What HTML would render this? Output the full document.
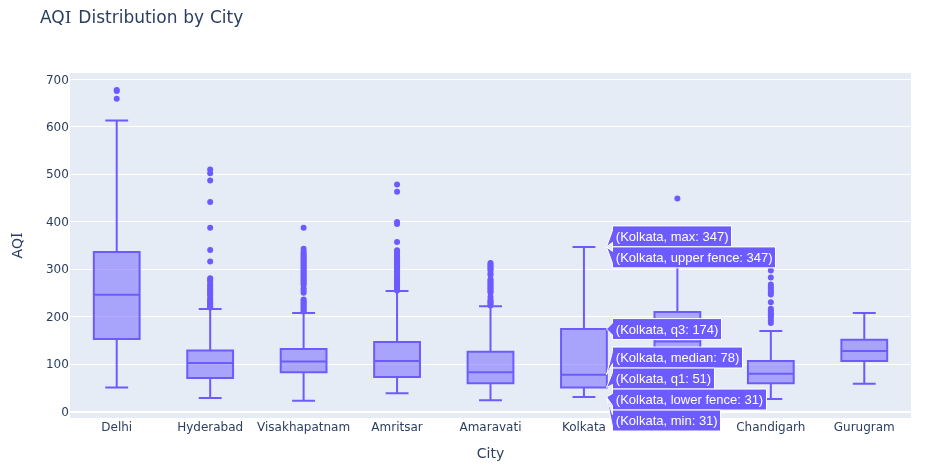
<!DOCTYPE html><html><head><meta charset="utf-8"><title>AQI Distribution by City</title><style>html,body{margin:0;padding:0;background:#fff;overflow:hidden}</style></head><body><svg width="928" height="472" viewBox="0 0 928 472" style="display:block">
<rect width="928" height="472" fill="#fff"/>
<rect x="70" y="73" width="841" height="345" fill="#e5ecf6"/>
<rect x="70" y="79" width="841" height="1" fill="#fff"/>
<rect x="70" y="126" width="841" height="1" fill="#fff"/>
<rect x="70" y="174" width="841" height="1" fill="#fff"/>
<rect x="70" y="221" width="841" height="1" fill="#fff"/>
<rect x="70" y="269" width="841" height="1" fill="#fff"/>
<rect x="70" y="316" width="841" height="1" fill="#fff"/>
<rect x="70" y="364" width="841" height="1" fill="#fff"/>
<rect x="70" y="411" width="841" height="2" fill="#fff"/>
<g font-family="'DejaVu Sans','Liberation Sans',sans-serif" fill="#2a3f5f">
<text x="68.9" y="416" text-anchor="end" font-size="12">0</text>
<text x="68.9" y="368" text-anchor="end" font-size="12">100</text>
<text x="68.9" y="321" text-anchor="end" font-size="12">200</text>
<text x="68.9" y="273" text-anchor="end" font-size="12">300</text>
<text x="68.9" y="226" text-anchor="end" font-size="12">400</text>
<text x="68.9" y="178" text-anchor="end" font-size="12">500</text>
<text x="68.9" y="131" text-anchor="end" font-size="12">600</text>
<text x="68.9" y="84" text-anchor="end" font-size="12">700</text>
<text x="116.72" y="431" text-anchor="middle" font-size="12">Delhi</text>
<text x="210.17" y="431" text-anchor="middle" font-size="12">Hyderabad</text>
<text x="303.61" y="431" text-anchor="middle" font-size="12">Visakhapatnam</text>
<text x="397.06" y="431" text-anchor="middle" font-size="12">Amritsar</text>
<text x="490.50" y="431" text-anchor="middle" font-size="12">Amaravati</text>
<text x="583.94" y="431" text-anchor="middle" font-size="12">Kolkata</text>
<text x="677.39" y="431" text-anchor="middle" font-size="12">Patna</text>
<text x="770.83" y="431" text-anchor="middle" font-size="12">Chandigarh</text>
<text x="864.28" y="431" text-anchor="middle" font-size="12">Gurugram</text>
<text x="40" y="23" font-size="17" style="word-spacing:0.4px">AQ<tspan font-family="'DejaVu Serif',serif">I</tspan><tspan dx="1.1"> Distribution by City</tspan></text>
<text x="490.5" y="458" text-anchor="middle" font-size="14">City</text>
<text transform="translate(22,245.5) rotate(-90)" text-anchor="middle" font-size="14">AQ<tspan font-family="'DejaVu Serif',serif">I</tspan></text>
</g>
<g stroke="#6c5cff" stroke-width="2" fill="#6c5cff" fill-opacity="0.5">
<path d="M93.83,294.85H139.62M93.83,339.02H139.62V252.10H93.83ZM116.72,339.02V387.47M116.72,252.10V120.52M105.28,387.47H128.17M105.28,120.52H128.17"/>
<path d="M187.27,363.01H233.06M187.27,377.97H233.06V350.43H187.27ZM210.17,377.97V397.93M210.17,350.43V309.10M198.72,397.93H221.61M198.72,309.10H221.61"/>
<path d="M280.72,361.59H326.50M280.72,372.27H326.50V349.00H280.72ZM303.61,372.27V400.77M303.61,349.00V312.90M292.16,400.77H315.06M292.16,312.90H315.06"/>
<path d="M374.16,360.88H419.95M374.16,377.02H419.95V341.88H374.16ZM397.06,377.02V393.18M397.06,341.88V291.05M385.61,393.18H408.50M385.61,291.05H408.50"/>
<path d="M467.61,372.27H513.39M467.61,383.20H513.39V351.85H467.61ZM490.50,383.20V400.30M490.50,351.85V306.25M479.05,400.30H501.95M479.05,306.25H501.95"/>
<path d="M561.05,374.65H606.84M561.05,387.47H606.84V329.05H561.05ZM583.94,387.47V396.97M583.94,329.05V246.88M572.50,396.97H595.39M572.50,246.88H595.39"/>
<path d="M654.50,341.40H700.28M654.50,372.00H700.28V311.95H654.50ZM677.39,372.00V400.00M677.39,311.95V250.00M665.94,400.00H688.84M665.94,250.00H688.84"/>
<path d="M747.94,373.70H793.73M747.94,383.20H793.73V360.88H747.94ZM770.83,383.20V399.10M770.83,360.88V330.95M759.39,399.10H782.28M759.39,330.95H782.28"/>
<path d="M841.38,350.90H887.17M841.38,361.11H887.17V339.74H841.38ZM864.28,361.11V383.68M864.28,339.74V312.90M852.83,383.68H875.72M852.83,312.90H875.72"/>
</g>
<g fill="#6c5cff">
<circle cx="116.72" cy="89.9" r="3"/>
<circle cx="116.72" cy="91.1" r="3"/>
<circle cx="116.72" cy="98.8" r="3"/>
<circle cx="210.17" cy="169.4" r="3"/>
<circle cx="210.17" cy="173.3" r="3"/>
<circle cx="210.17" cy="180.55" r="3"/>
<circle cx="210.17" cy="201.9" r="3"/>
<circle cx="210.17" cy="227.8" r="3"/>
<circle cx="210.17" cy="250.0" r="3"/>
<circle cx="210.17" cy="261.4" r="3"/>
<circle cx="210.17" cy="278.2" r="3"/>
<circle cx="210.17" cy="279.8" r="3"/>
<circle cx="210.17" cy="281.4" r="3"/>
<circle cx="210.17" cy="284.3" r="3"/>
<circle cx="210.17" cy="286.2" r="3"/>
<circle cx="210.17" cy="288.4" r="3"/>
<circle cx="210.17" cy="290.3" r="3"/>
<circle cx="210.17" cy="292.2" r="3"/>
<circle cx="210.17" cy="293.8" r="3"/>
<circle cx="210.17" cy="295.4" r="3"/>
<circle cx="210.17" cy="298.2" r="3"/>
<circle cx="210.17" cy="300.3" r="3"/>
<circle cx="210.17" cy="302" r="3"/>
<circle cx="210.17" cy="303.4" r="3"/>
<circle cx="210.17" cy="304.8" r="3"/>
<circle cx="210.17" cy="306.2" r="3"/>
<circle cx="210.17" cy="307.6" r="3"/>
<circle cx="303.61" cy="227.8" r="3"/>
<circle cx="303.61" cy="248.8" r="3"/>
<circle cx="303.61" cy="251.6" r="3"/>
<circle cx="303.61" cy="253.6" r="3"/>
<circle cx="303.61" cy="255.1" r="3"/>
<circle cx="303.61" cy="256.6" r="3"/>
<circle cx="303.61" cy="258.1" r="3"/>
<circle cx="303.61" cy="259.6" r="3"/>
<circle cx="303.61" cy="261.1" r="3"/>
<circle cx="303.61" cy="262.6" r="3"/>
<circle cx="303.61" cy="264.1" r="3"/>
<circle cx="303.61" cy="265.6" r="3"/>
<circle cx="303.61" cy="267.1" r="3"/>
<circle cx="303.61" cy="268.6" r="3"/>
<circle cx="303.61" cy="270.1" r="3"/>
<circle cx="303.61" cy="271.6" r="3"/>
<circle cx="303.61" cy="273.1" r="3"/>
<circle cx="303.61" cy="274.6" r="3"/>
<circle cx="303.61" cy="276.1" r="3"/>
<circle cx="303.61" cy="277.6" r="3"/>
<circle cx="303.61" cy="279.1" r="3"/>
<circle cx="303.61" cy="280.6" r="3"/>
<circle cx="303.61" cy="282.1" r="3"/>
<circle cx="303.61" cy="283.6" r="3"/>
<circle cx="303.61" cy="285.1" r="3"/>
<circle cx="303.61" cy="288.3" r="3"/>
<circle cx="303.61" cy="290.6" r="3"/>
<circle cx="303.61" cy="292.8" r="3"/>
<circle cx="303.61" cy="299.6" r="3"/>
<circle cx="303.61" cy="301.1" r="3"/>
<circle cx="303.61" cy="302.6" r="3"/>
<circle cx="303.61" cy="304.1" r="3"/>
<circle cx="303.61" cy="305.6" r="3"/>
<circle cx="303.61" cy="307.1" r="3"/>
<circle cx="303.61" cy="308.6" r="3"/>
<circle cx="303.61" cy="310.1" r="3"/>
<circle cx="303.61" cy="311.6" r="3"/>
<circle cx="397.06" cy="184.6" r="3"/>
<circle cx="397.06" cy="191.8" r="3"/>
<circle cx="397.06" cy="221.9" r="3"/>
<circle cx="397.06" cy="224.0" r="3"/>
<circle cx="397.06" cy="242.0" r="3"/>
<circle cx="397.06" cy="250.3" r="3"/>
<circle cx="397.06" cy="251.8" r="3"/>
<circle cx="397.06" cy="253.3" r="3"/>
<circle cx="397.06" cy="254.8" r="3"/>
<circle cx="397.06" cy="256.3" r="3"/>
<circle cx="397.06" cy="257.8" r="3"/>
<circle cx="397.06" cy="259.3" r="3"/>
<circle cx="397.06" cy="260.8" r="3"/>
<circle cx="397.06" cy="262.3" r="3"/>
<circle cx="397.06" cy="263.8" r="3"/>
<circle cx="397.06" cy="265.3" r="3"/>
<circle cx="397.06" cy="266.8" r="3"/>
<circle cx="397.06" cy="268.3" r="3"/>
<circle cx="397.06" cy="269.8" r="3"/>
<circle cx="397.06" cy="271.3" r="3"/>
<circle cx="397.06" cy="272.8" r="3"/>
<circle cx="397.06" cy="275.2" r="3"/>
<circle cx="397.06" cy="277" r="3"/>
<circle cx="397.06" cy="278.5" r="3"/>
<circle cx="397.06" cy="280.0" r="3"/>
<circle cx="397.06" cy="281.5" r="3"/>
<circle cx="397.06" cy="283.0" r="3"/>
<circle cx="397.06" cy="284.5" r="3"/>
<circle cx="397.06" cy="286.0" r="3"/>
<circle cx="397.06" cy="287.5" r="3"/>
<circle cx="397.06" cy="289.0" r="3"/>
<circle cx="397.06" cy="290.5" r="3"/>
<circle cx="490.50" cy="263.1" r="3"/>
<circle cx="490.50" cy="264.6" r="3"/>
<circle cx="490.50" cy="266.1" r="3"/>
<circle cx="490.50" cy="267.6" r="3"/>
<circle cx="490.50" cy="269.1" r="3"/>
<circle cx="490.50" cy="270.4" r="3"/>
<circle cx="490.50" cy="273.6" r="3"/>
<circle cx="490.50" cy="275.0" r="3"/>
<circle cx="490.50" cy="279.2" r="3"/>
<circle cx="490.50" cy="280.7" r="3"/>
<circle cx="490.50" cy="282.2" r="3"/>
<circle cx="490.50" cy="283.7" r="3"/>
<circle cx="490.50" cy="285.2" r="3"/>
<circle cx="490.50" cy="286.7" r="3"/>
<circle cx="490.50" cy="288.2" r="3"/>
<circle cx="490.50" cy="289.7" r="3"/>
<circle cx="490.50" cy="291.2" r="3"/>
<circle cx="490.50" cy="292.7" r="3"/>
<circle cx="490.50" cy="296.9" r="3"/>
<circle cx="490.50" cy="299.9" r="3"/>
<circle cx="490.50" cy="301.3" r="3"/>
<circle cx="490.50" cy="302.7" r="3"/>
<circle cx="490.50" cy="304.1" r="3"/>
<circle cx="490.50" cy="305.5" r="3"/>
<circle cx="677.39" cy="198.6" r="3"/>
<circle cx="770.83" cy="270.5" r="3"/>
<circle cx="770.83" cy="277.6" r="3"/>
<circle cx="770.83" cy="284.5" r="3"/>
<circle cx="770.83" cy="286.8" r="3"/>
<circle cx="770.83" cy="288.6" r="3"/>
<circle cx="770.83" cy="290.7" r="3"/>
<circle cx="770.83" cy="292.3" r="3"/>
<circle cx="770.83" cy="294.6" r="3"/>
<circle cx="770.83" cy="302.2" r="3"/>
<circle cx="770.83" cy="308.7" r="3"/>
<circle cx="770.83" cy="310.4" r="3"/>
<circle cx="770.83" cy="312.8" r="3"/>
<circle cx="770.83" cy="314.6" r="3"/>
<circle cx="770.83" cy="316.0" r="3"/>
<circle cx="770.83" cy="317.4" r="3"/>
<circle cx="770.83" cy="320.6" r="3"/>
<circle cx="770.83" cy="323.1" r="3"/>
</g>
<g font-family="'Liberation Sans',Arial,sans-serif" font-size="13">
<g transform="translate(606.5,246.875)"><path d="M0,0L6,-4.50v4.47h119.00v-20.95H6V-16.50Z" fill="#6c5cff" stroke="#fff" stroke-width="1"/><text x="9.3" y="-6.00" fill="#fff">(Kolkata, max: 347)</text></g>
<g transform="translate(606.5,246.875)"><path d="M0,0L6,16.50v4.47h163.00v-20.95H6V4.50Z" fill="#6c5cff" stroke="#fff" stroke-width="1"/><text x="9.3" y="15.00" fill="#fff">(Kolkata, upper fence: 347)</text></g>
<g transform="translate(606.5,329.05)"><path d="M0,0L6,6.00v4.47h109.00v-20.95H6V-6.00Z" fill="#6c5cff" stroke="#fff" stroke-width="1"/><text x="9.3" y="4.50" fill="#fff">(Kolkata, q3: 174)</text></g>
<g transform="translate(606.5,374.65)"><path d="M0,0L6,-11.11v4.47h130.00v-20.95H6V-23.11Z" fill="#6c5cff" stroke="#fff" stroke-width="1"/><text x="9.3" y="-12.61" fill="#fff">(Kolkata, median: 78)</text></g>
<g transform="translate(606.5,387.47499999999997)"><path d="M0,0L6,-2.93v4.47h102.00v-20.95H6V-14.93Z" fill="#6c5cff" stroke="#fff" stroke-width="1"/><text x="9.3" y="-4.43" fill="#fff">(Kolkata, q1: 51)</text></g>
<g transform="translate(606.5,396.97499999999997)"><path d="M0,0L6,8.57v4.47h154.00v-20.95H6V-3.43Z" fill="#6c5cff" stroke="#fff" stroke-width="1"/><text x="9.3" y="7.07" fill="#fff">(Kolkata, lower fence: 31)</text></g>
<g transform="translate(606.5,396.97499999999997)"><path d="M0,0L6,29.57v4.47h108.00v-20.95H6V17.57Z" fill="#6c5cff" stroke="#fff" stroke-width="1"/><text x="9.3" y="28.07" fill="#fff">(Kolkata, min: 31)</text></g>
</g>
</svg></body></html>
